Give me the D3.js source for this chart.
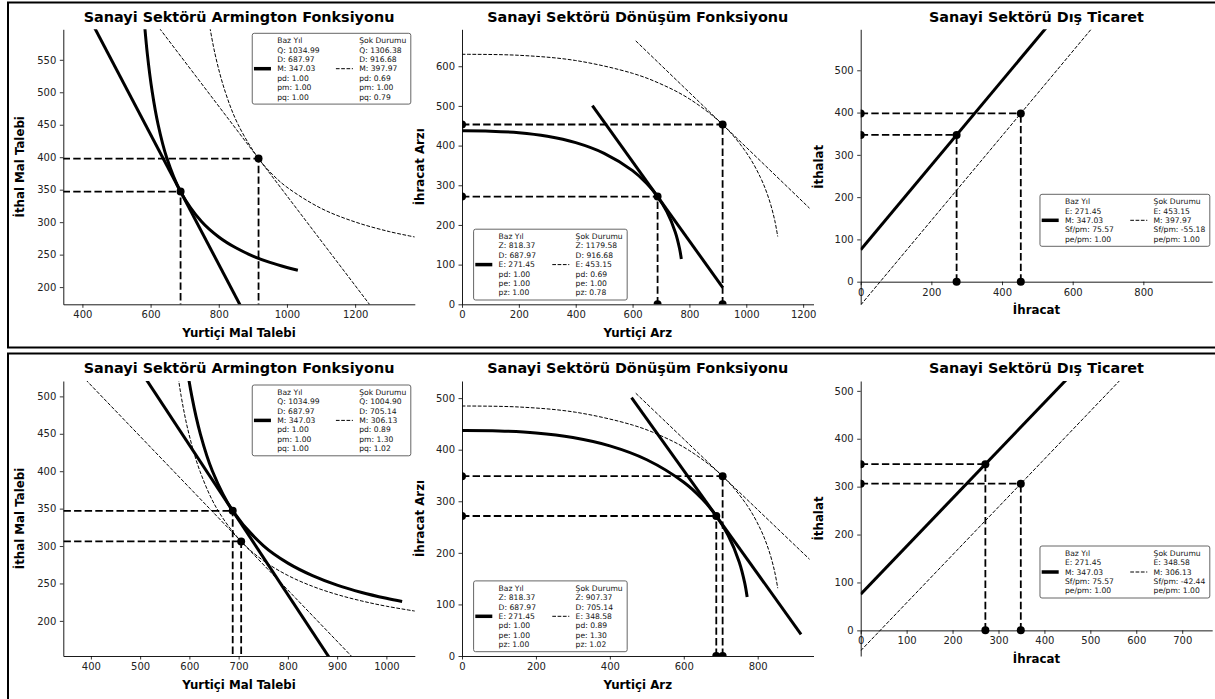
<!DOCTYPE html>
<html><head><meta charset="utf-8">
<script src="https://cdn.jsdelivr.net/npm/d3@7"></script>
<style>
body{margin:0;background:#fff;}
svg text{font-family:"DejaVu Sans",sans-serif;}
</style></head><body>
<svg id="c" width="1215" height="699"></svg>
<script>
// ================= DATA =================
// --- shared base-year curves ---
const armCurveBase = [[576.7,640],[590.3,560],[605.0,500],[622.2,450],[646.9,400],[687.97,347.03],[750,300.6],[800,277.2],[850,260.5],[900,247.8],[950,238.0],[1000,230.2],[1032,225.9]];
const armLineBase = [[300,735],[1400,-365]];
const armLegendBase = ["Baz Yıl","Q: 1034.99","D: 687.97","M: 347.03","pd: 1.00","pm: 1.00","pq: 1.00"];
const cetCurveBase = [[0,437.1],[100,436.4],[200,432.6],[300,423.6],[400,407.4],[500,380.5],[600,336.8],[650,304.3],[687.97,271.45],[720,234.1],[750,182.4],[765,141.3],[771.5,114.3]];
const cetLineBase = [[458.65,500.77],[917.29,42.13]];
const cetLegendBase = ["Baz Yıl","Z: 818.37","D: 687.97","E: 271.45","pd: 1.00","pe: 1.00","pz: 1.00"];
const tradeLineBase = [[0,75.57],[1100,1175.57]];
const tradeLegendBase = ["Baz Yıl","E: 271.45","M: 347.03","Sf/pm: 75.57","pe/pm: 1.00"];

// --- top row (shock 1) ---
const armXDomainTop = [343.99,1375.02], armYDomainTop = [173.52,596.96];
const armXTicksTop = [400,600,800,1000,1200], armYTicksTop = [200,250,300,350,400,450,500,550];
const armCurveShockTop = [[761.0,640],[788.6,560],[819.4,500],[857.0,450],[916.68,397.97],[960,372.2],[1000,353.8],[1100,321.3],[1200,300.3],[1300,285.5],[1375,277.2]];
const armLineShockTop = [[400,754.47],[1500,-4.53]];
const armPointsTop = [[687.97,347.03],[916.68,397.97]];
const armLegendShockTop = ["Şok Durumu","Q: 1306.38","D: 916.68","M: 397.97","pd: 0.69","pm: 1.00","pq: 0.79"];

const cetXDomainTop = [0,1236.4], cetYDomainTop = [0,693.1];
const cetXTicksTop = [0,200,400,600,800,1000,1200], cetYTicksTop = [0,100,200,300,400,500,600];
const cetCurveShockTop = [[0,630.1],[200,627.6],[400,614.4],[600,582.1],[700,555.1],[800,517.6],[916.68,453.15],[1000,382.5],[1050,319.4],[1080,264.7],[1100,211.7],[1110.5,170.9]];
const cetLineShockTop = [[611.12,663.99],[1222.24,242.31]];
const cetPointsTop = [[687.97,271.45],[916.68,453.15]];
const cetLegendShockTop = ["Şok Durumu","Z: 1179.58","D: 916.68","E: 453.15","pd: 0.69","pe: 1.00","pz: 0.78"];

const tradeXDomainTop = [0,994.9], tradeYDomainTop = [-53.5,596.96];
const tradeXTicksTop = [0,200,400,600,800], tradeYTicksTop = [0,100,200,300,400,500];
const tradeLineShockTop = [[0,-55.18],[1100,1044.82]];
const tradePointsTop = [[271.45,347.03],[453.15,397.97]];
const tradeLegendShockTop = ["Şok Durumu","E: 453.15","M: 397.97","Sf/pm: -55.18","pe/pm: 1.00"];

// --- bottom row (shock 2) ---
const armXDomainBot = [343.99,1057.71], armYDomainBot = [153.07,520.55];
const armXTicksBot = [400,500,600,700,800,900,1000], armYTicksBot = [200,250,300,350,400,450,500];
const armCurveShockBot = [[569.9,560],[583.4,500],[599.0,450],[621.5,400],[655.8,350],[705.14,306.13],[750,280.6],[800,260.7],[850,246.2],[900,235.2],[950,226.6],[1000,219.6],[1058,213.1]];
const armLineShockBot = [[300,583.49],[1100,35.8]];
const armPointsBot = [[687.97,347.03],[705.14,306.13]];
const armLegendShockBot = ["Şok Durumu","Q: 1004.90","D: 705.14","M: 306.13","pd: 0.89","pm: 1.30","pq: 1.02"];

const cetXDomainBot = [0,951], cetYDomainBot = [0,533.2];
const cetXTicksBot = [0,200,400,600,800], cetYTicksBot = [0,100,200,300,400,500];
const cetCurveShockBot = [[0,484.7],[153.85,482.8],[307.69,472.6],[461.54,447.8],[538.46,427.0],[615.38,398.2],[705.14,348.58],[769.23,294.2],[807.69,245.7],[830.77,203.6],[846.15,162.8],[854.23,131.5]];
const cetLineShockBot = [[470.09,509.49],[940.19,187.65]];
const cetPointsBot = [[687.97,271.45],[705.14,348.58]];
const cetLegendShockBot = ["Şok Durumu","Z: 907.37","D: 705.14","E: 348.58","pd: 0.89","pe: 1.30","pz: 1.02"];

const tradeXDomainBot = [0,765.3], tradeYDomainBot = [-53.5,520.55];
const tradeXTicksBot = [0,100,200,300,400,500,600,700], tradeYTicksBot = [0,100,200,300,400,500];
const tradeLineShockBot = [[0,-42.44],[900,857.56]];
const tradePointsBot = [[271.45,347.03],[348.58,306.13]];
const tradeLegendShockBot = ["Şok Durumu","E: 348.58","M: 306.13","Sf/pm: -42.44","pe/pm: 1.00"];

const titles = ["Sanayi Sektörü Armington Fonksiyonu","Sanayi Sektörü Dönüşüm Fonksiyonu","Sanayi Sektörü Dış Ticaret"];
const xLabels = ["Yurtiçi Mal Talebi","Yurtiçi Arz","İhracat"];
const yLabels = ["İthal Mal Talebi","İhracat Arzı","İthalat"];

// ================= LAYOUT =================
const svg = d3.select("#c");
const AW = 351.5, AH = 275;
const lefts = [63.3, 462, 860.7];
const tops = [29.3, 381];

svg.append("rect").attr("x",8).attr("y",2.5).attr("width",1220).attr("height",345)
  .attr("fill","none").attr("stroke","#000").attr("stroke-width",2);
svg.append("rect").attr("x",8).attr("y",353.5).attr("width",1220).attr("height",400)
  .attr("fill","none").attr("stroke","#000").attr("stroke-width",2);

const measurer = svg.append("text").attr("font-size",7.6).attr("x",-1000).attr("y",-1000);
function textW(s){ measurer.text(s); return measurer.node().getComputedTextLength(); }

let clipCount = 0;
function drawPanel(o){
  const left = lefts[o.col], top = tops[o.row];
  const x = d3.scaleLinear().domain(o.xd).range([left, left+AW]);
  const y = d3.scaleLinear().domain(o.yd).range([top+AH, top]);
  const cid = "clip" + (clipCount++);
  svg.append("clipPath").attr("id",cid).append("rect")
    .attr("x",left).attr("y",top).attr("width",AW).attr("height",AH);
  const g = svg.append("g");
  const plot = g.append("g").attr("clip-path",`url(#${cid})`);
  const lineGen = d3.line().x(d=>x(d[0])).y(d=>y(d[1]));
  const curveGen = d3.line().x(d=>x(d[0])).y(d=>y(d[1])).curve(d3.curveCatmullRom.alpha(0.5));

  if (o.curveBase) plot.append("path").attr("d",curveGen(o.curveBase)).attr("fill","none").attr("stroke","#000").attr("stroke-width",3);
  plot.append("path").attr("d",lineGen(o.lineBase)).attr("fill","none").attr("stroke","#000").attr("stroke-width",3);
  if (o.curveShock) plot.append("path").attr("d",curveGen(o.curveShock)).attr("fill","none").attr("stroke","#000").attr("stroke-width",1).attr("stroke-dasharray","3.7,1.6");
  plot.append("path").attr("d",lineGen(o.lineShock)).attr("fill","none").attr("stroke","#000").attr("stroke-width",1).attr("stroke-dasharray","3.7,1.6");

  o.points.forEach(p=>{
    plot.append("path").attr("d",lineGen([[0,p[1]],p])).attr("fill","none").attr("stroke","#000").attr("stroke-width",1.8).attr("stroke-dasharray","7.4,3.2");
    plot.append("path").attr("d",lineGen([[p[0],0],p])).attr("fill","none").attr("stroke","#000").attr("stroke-width",1.8).attr("stroke-dasharray","7.4,3.2");
  });
  o.points.forEach(p=>{
    [[0,p[1]],[p[0],0],p].forEach(q=>{
      plot.append("circle").attr("cx",x(q[0])).attr("cy",y(q[1])).attr("r",4).attr("fill","#000");
    });
  });

  // axes
  const xAxisY = o.zeroAxis ? y(0) : top+AH;
  const ax = g.append("g").attr("transform",`translate(0,${xAxisY})`)
    .call(d3.axisBottom(x).tickValues(o.xt).tickFormat(d3.format("d")).tickSize(3.5).tickPadding(3.5).tickSizeOuter(0));
  const ay = g.append("g").attr("transform",`translate(${left},0)`)
    .call(d3.axisLeft(y).tickValues(o.yt).tickFormat(d3.format("d")).tickSize(3.5).tickPadding(3.5).tickSizeOuter(0));
  [ax,ay].forEach(a=>{
    a.attr("font-family","DejaVu Sans").attr("font-size",10);
    a.selectAll("text").attr("fill","#222");
    a.selectAll("line").attr("stroke","#000").attr("stroke-width",0.8);
    a.select(".domain").attr("stroke","#000").attr("stroke-width",0.9);
  });

  // title & labels
  g.append("text").attr("x",left+AW/2).attr("y",top-12.6).attr("dy","0.35em")
    .attr("text-anchor","middle").attr("font-weight","bold").attr("font-size",14.4).attr("fill","#000").text(titles[o.col]);
  g.append("text").attr("x",left+AW/2).attr("y",xAxisY+28.4).attr("dy","0.35em")
    .attr("text-anchor","middle").attr("font-weight","bold").attr("font-size",11.8).attr("fill","#000").text(xLabels[o.col]);
  const ylx = [20, 420, 819.3][o.col];
  g.append("text").attr("transform",`translate(${ylx},${top+AH/2}) rotate(-90)`).attr("dy","0.35em")
    .attr("text-anchor","middle").attr("font-weight","bold").attr("font-size",11.8).attr("fill","#000").text(yLabels[o.col]);

  // legend
  const lh = 9.4, pad = 2.5;
  const n = o.legBase.length;
  const w1 = d3.max(o.legBase, textW), w2 = d3.max(o.legShock, textW);
  const lw = 1.7 + 23.3 + w1 + 16.3 + 23.3 + w2 + 4.5;
  const lhgt = n*lh + 2*pad;
  let L, T;
  if (o.col === 0){ L = left+AW-4-lw; T = top+4; }
  else if (o.col === 1){ L = left+11.6; T = top+AH-4.3-lhgt; }
  else { L = left+AW-2.4-lw; T = top+AH-0.3*AH-1.5-lhgt/2; }
  const lg = g.append("g");
  lg.append("rect").attr("x",L).attr("y",T).attr("width",lw).attr("height",lhgt).attr("rx",2)
    .attr("fill","#fff").attr("stroke","#555").attr("stroke-width",0.9);
  const cy = T + lhgt/2;
  const cols = [{x:L+1.7, lines:o.legBase, solid:true},{x:L+1.7+23.3+w1+16.3, lines:o.legShock, solid:false}];
  cols.forEach(c=>{
    const h = lg.append("line").attr("x1",c.x).attr("x2",c.x+17).attr("y1",cy).attr("y2",cy).attr("stroke","#000");
    if (c.solid) h.attr("stroke-width",3.5); else h.attr("stroke-width",1).attr("stroke-dasharray","3.7,1.6");
    c.lines.forEach((s,i)=>{
      lg.append("text").attr("x",c.x+23.3).attr("y",T+pad+(i+0.5)*lh).attr("dy","0.35em")
        .attr("font-size",7.6).attr("fill","#111").text(s);
    });
  });
}

drawPanel({row:0,col:0,xd:armXDomainTop,yd:armYDomainTop,xt:armXTicksTop,yt:armYTicksTop,curveBase:armCurveBase,lineBase:armLineBase,curveShock:armCurveShockTop,lineShock:armLineShockTop,points:armPointsTop,legBase:armLegendBase,legShock:armLegendShockTop});
drawPanel({row:0,col:1,xd:cetXDomainTop,yd:cetYDomainTop,xt:cetXTicksTop,yt:cetYTicksTop,curveBase:cetCurveBase,lineBase:cetLineBase,curveShock:cetCurveShockTop,lineShock:cetLineShockTop,points:cetPointsTop,legBase:cetLegendBase,legShock:cetLegendShockTop});
drawPanel({row:0,col:2,zeroAxis:true,xd:tradeXDomainTop,yd:tradeYDomainTop,xt:tradeXTicksTop,yt:tradeYTicksTop,lineBase:tradeLineBase,lineShock:tradeLineShockTop,points:tradePointsTop,legBase:tradeLegendBase,legShock:tradeLegendShockTop});
drawPanel({row:1,col:0,xd:armXDomainBot,yd:armYDomainBot,xt:armXTicksBot,yt:armYTicksBot,curveBase:armCurveBase,lineBase:armLineBase,curveShock:armCurveShockBot,lineShock:armLineShockBot,points:armPointsBot,legBase:armLegendBase,legShock:armLegendShockBot});
drawPanel({row:1,col:1,xd:cetXDomainBot,yd:cetYDomainBot,xt:cetXTicksBot,yt:cetYTicksBot,curveBase:cetCurveBase,lineBase:cetLineBase,curveShock:cetCurveShockBot,lineShock:cetLineShockBot,points:cetPointsBot,legBase:cetLegendBase,legShock:cetLegendShockBot});
drawPanel({row:1,col:2,zeroAxis:true,xd:tradeXDomainBot,yd:tradeYDomainBot,xt:tradeXTicksBot,yt:tradeYTicksBot,lineBase:tradeLineBase,lineShock:tradeLineShockBot,points:tradePointsBot,legBase:tradeLegendBase,legShock:tradeLegendShockBot});
measurer.remove();
</script>
</body></html>
